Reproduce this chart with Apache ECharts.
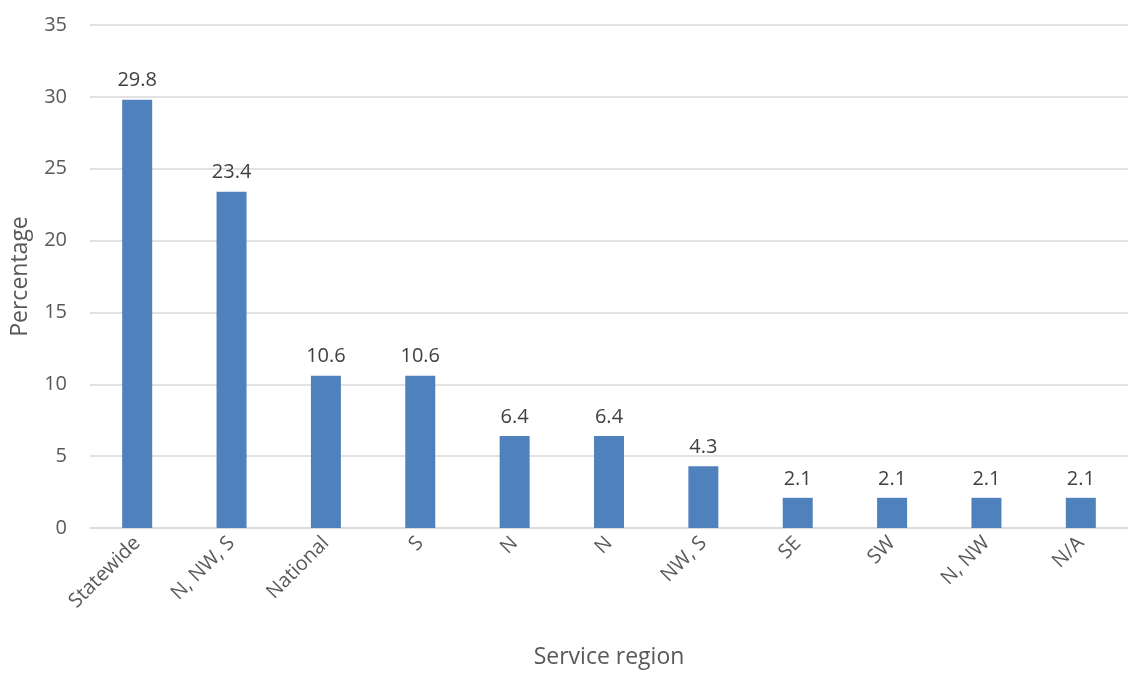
<!DOCTYPE html>
<html>
<head>
<meta charset="utf-8">
<script src="https://cdn.jsdelivr.net/npm/echarts@6/dist/echarts.min.js"></script>
<style>
  html, body { margin: 0; padding: 0; background: #fff; }
  #main { width: 1128px; height: 675px; }
</style>
</head>
<body>
<div id="main"></div>
<script>
var regions = ["Statewide", "N, NW, S", "National", "S", "N", "N", "NW, S", "SE", "SW", "N, NW", "N/A"];
var percentages = [29.8, 23.4, 10.6, 10.6, 6.4, 6.4, 4.3, 2.1, 2.1, 2.1, 2.1];

var chart = echarts.init(document.getElementById("main"));
var font = "Open Sans";
var option = {
  animation: false,
  grid: { left: 90, right: 0, top: 25, bottom: 147 },
  xAxis: {
    type: "category",
    data: regions,
    name: "Service region",
    nameLocation: "middle",
    nameGap: 118,
    nameTextStyle: { fontFamily: font, fontSize: 23, color: "#595959" },
    axisLine: { lineStyle: { color: "#d9d9d9", width: 1.5 } },
    axisTick: { show: false },
    axisLabel: {
      interval: 0,
      rotate: 45,
      margin: 12,
      fontFamily: font,
      fontSize: 20,
      color: "#595959"
    }
  },
  yAxis: {
    type: "value",
    min: 0,
    max: 35,
    interval: 5,
    name: "Percentage",
    nameLocation: "middle",
    nameGap: 58,
    nameTextStyle: { fontFamily: font, fontSize: 23, color: "#595959" },
    axisLine: { show: false },
    axisTick: { show: false },
    axisLabel: { fontFamily: font, fontSize: 20, color: "#595959", margin: 23 },
    splitLine: { lineStyle: { color: "#d9d9d9", width: 1.5 } }
  },
  series: [{
    type: "bar",
    data: percentages,
    barWidth: 30,
    itemStyle: { color: "#4f81bd" },
    label: {
      show: true,
      position: "top",
      distance: 9,
      fontFamily: font,
      fontSize: 20,
      color: "#404040"
    }
  }]
};
chart.setOption(option);
</script>
</body>
</html>
